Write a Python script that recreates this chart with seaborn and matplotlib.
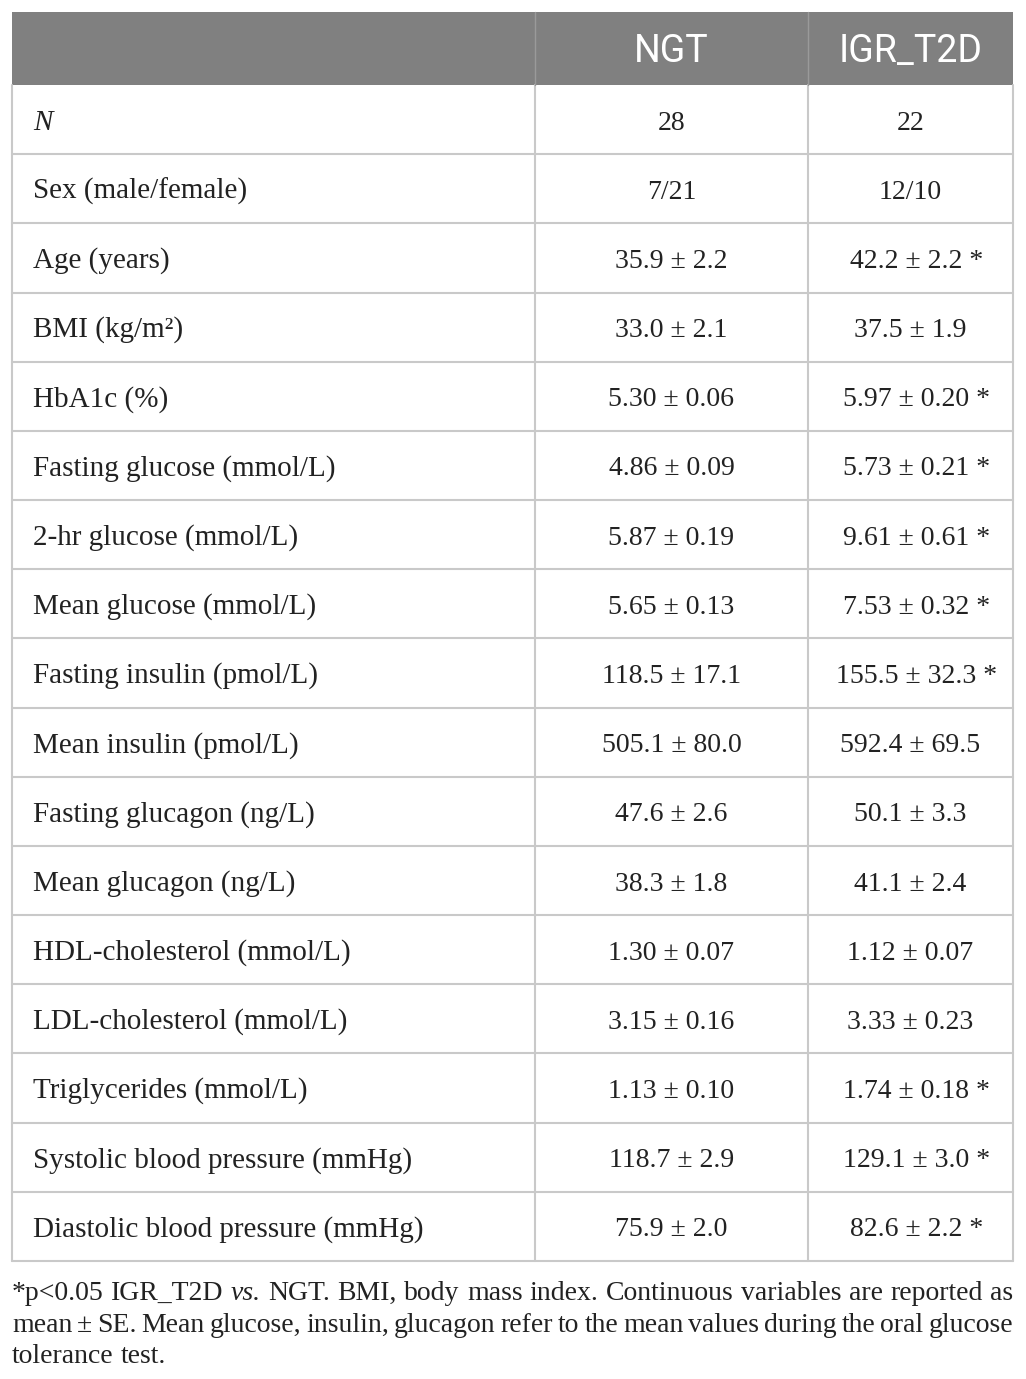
import matplotlib.pyplot as plt
import seaborn as sns

# table content
columns = ["NGT", "IGR_T2D"]
variables = ["N", "Sex (male/female)", "Age (years)", "BMI (kg/m²)", "HbA1c (%)",
             "Fasting glucose (mmol/L)", "2-hr glucose (mmol/L)", "Mean glucose (mmol/L)",
             "Fasting insulin (pmol/L)", "Mean insulin (pmol/L)", "Fasting glucagon (ng/L)",
             "Mean glucagon (ng/L)", "HDL-cholesterol (mmol/L)", "LDL-cholesterol (mmol/L)",
             "Triglycerides (mmol/L)", "Systolic blood pressure (mmHg)",
             "Diastolic blood pressure (mmHg)"]
ngt = ["28", "7/21", "35.9 ± 2.2", "33.0 ± 2.1", "5.30 ± 0.06", "4.86 ± 0.09",
       "5.87 ± 0.19", "5.65 ± 0.13", "118.5 ± 17.1", "505.1 ± 80.0", "47.6 ± 2.6",
       "38.3 ± 1.8", "1.30 ± 0.07", "3.15 ± 0.16", "1.13 ± 0.10", "118.7 ± 2.9",
       "75.9 ± 2.0"]
igr = ["22", "12/10", "42.2 ± 2.2 *", "37.5 ± 1.9", "5.97 ± 0.20 *", "5.73 ± 0.21 *",
       "9.61 ± 0.61 *", "7.53 ± 0.32 *", "155.5 ± 32.3 *", "592.4 ± 69.5", "50.1 ± 3.3",
       "41.1 ± 2.4", "1.12 ± 0.07", "3.33 ± 0.23", "1.74 ± 0.18 *", "129.1 ± 3.0 *",
       "82.6 ± 2.2 *"]
footnote = [
    "*p<0.05 IGR_T2D vs. NGT. BMI, body mass index. Continuous variables are reported as",
    "mean ± SE. Mean glucose, insulin, glucagon refer to the mean values during the oral glucose",
    "tolerance test.",
]

sns.set_theme(style="white")
W, H = 1026, 1379
fig = plt.figure(figsize=(W / 100, H / 100), dpi=100)
ax = fig.add_axes([0, 0, 1, 1])
ax.set_xlim(0, W)
ax.set_ylim(H, 0)
ax.axis("off")

serif = ["Liberation Serif", "DejaVu Serif"]
head_font = ["Roboto", "DejaVu Sans"]
line_c = "#c9c9c9"
txt_c = "#222222"

left, right = 12, 1013
col1, col2 = 535, 808
top, head_bot = 12, 85
row_h = (1261 - head_bot) / len(variables)
fs = 20

# header band
ax.add_patch(plt.Rectangle((left, top), right - left, head_bot - top, color="#808080", lw=0))
ax.text((col1 + col2) / 2, 62, columns[0], ha="center", va="baseline", color="white",
        fontsize=27, family=head_font)
ax.text((col2 + right) / 2, 62, columns[1], ha="center", va="baseline", color="white",
        fontsize=27, family=head_font)

bottom = head_bot + row_h * len(variables)
for i, (v, a, b) in enumerate(zip(variables, ngt, igr)):
    y0 = head_bot + row_h * i
    base = y0 + row_h / 2 + 10
    ax.text(33, base, v, ha="left", va="baseline", fontsize=21, family=serif,
            color=txt_c, style="italic" if v == "N" else "normal")
    ax.text((col1 + col2) / 2, base, a, ha="center", va="baseline", fontsize=fs,
            family=serif, color=txt_c)
    ax.text((col2 + right) / 2 + (6 if b.endswith("*") else 0), base, b, ha="center",
            va="baseline", fontsize=fs, family=serif, color=txt_c)
    ax.plot([left, right], [y0 + row_h, y0 + row_h], color=line_c, lw=1.5)

for x in (left, col1, col2, right):
    ax.plot([x, x], [head_bot, bottom], color=line_c, lw=1.5)
for x in (col1, col2):
    ax.plot([x, x], [top, head_bot], color="#9a9a9a", lw=1)

# justified footnote
fig.canvas.draw()
renderer = fig.canvas.get_renderer()
base_y = [1300, 1331.5, 1363]
for li, line in enumerate(footnote):
    words = line.split(" ")
    items = []
    for w in words:
        t = ax.text(0, base_y[li], w, ha="left", va="baseline", fontsize=fs, family=serif,
                    color=txt_c, style="italic" if w == "vs." else "normal")
        items.append(t)
    widths = [t.get_window_extent(renderer).width for t in items]
    if li < len(footnote) - 1:
        gap = (right - left - sum(widths)) / (len(items) - 1)
    else:
        gap = 0.25 * fs * 100 / 72
    x = left
    for t, wd in zip(items, widths):
        t.set_x(x)
        x += wd + gap

fig.savefig("out.png", dpi=100, facecolor="white")
